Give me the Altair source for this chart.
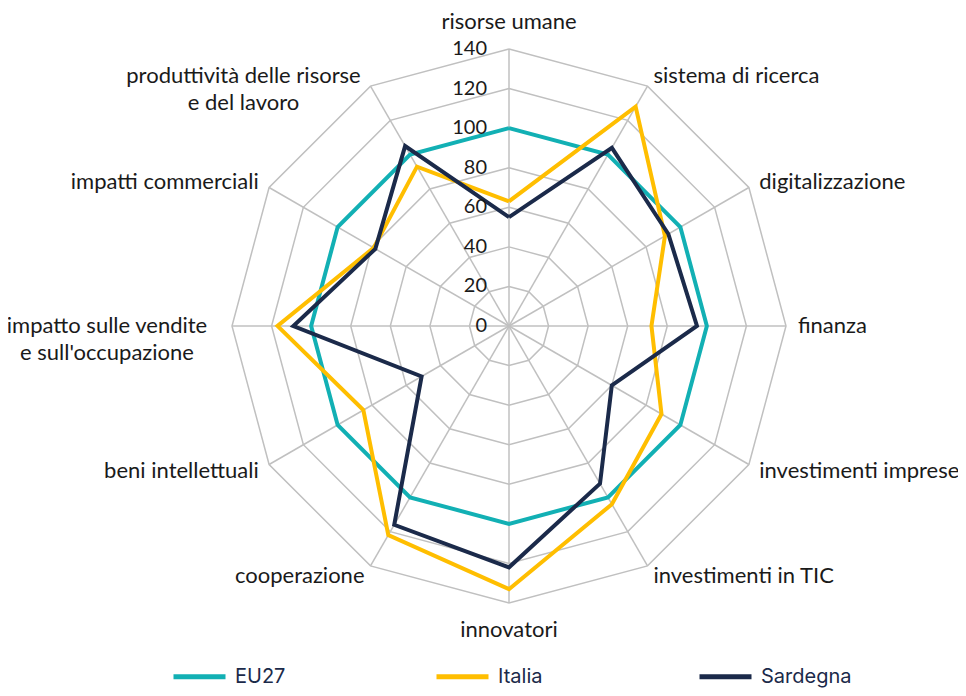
import altair as alt
import pandas as pd

categories = [
    "risorse umane",
    "sistema di ricerca",
    "digitalizzazione",
    "finanza",
    "investimenti imprese",
    "investimenti in TIC",
    "innovatori",
    "cooperazione",
    "beni intellettuali",
    "impatto sulle vendite\ne sull'occupazione",
    "impatti commerciali",
    "produttività delle risorse\ne del lavoro",
]
series_names = ["EU27", "Italia", "Sardegna"]
eu27 = [100, 100, 100, 100, 100, 100, 100, 100, 100, 100, 100, 100]
italia = [63, 128, 91, 72, 89, 104, 133, 122, 85, 117, 79, 93]
sardegna = [55, 104, 93, 95, 60, 92, 122, 116, 51, 109, 78, 105]
levels = [0, 20, 40, 60, 80, 100, 120, 140]
colors = ["#12B0B4", "#FFBE00", "#1B2A4A"]

N = len(categories)
RMAX = levels[-1]

# series table (closed polygons)
rows = []
for name, vals in zip(series_names, [eu27, italia, sardegna]):
    for i in range(N + 1):
        rows.append({"series": name, "idx": i, "value": vals[i % N]})
series_df = pd.DataFrame(rows)

# grid polygons
grid_rows = []
for lv in levels[1:]:
    for i in range(N + 1):
        grid_rows.append({"level": lv, "idx": i})
grid_df = pd.DataFrame(grid_rows)

spoke_df = pd.DataFrame({"idx": list(range(N)), "r": [RMAX] * N})
tick_df = pd.DataFrame({"level": levels, "label": [str(v) for v in levels]})
label_df = pd.DataFrame({"idx": list(range(N)), "cat": categories})

FONT = "Lato"
TXT = "#1a1a1a"
GRID = "#C0C0C0"

k = 277 / 140.0  # px per unit
cx, cy = 501, 318  # center in plot coords
W, H = 950, 680
xs = alt.Scale(domain=[-cx / k, (W - cx) / k], nice=False, zero=False)
ys = alt.Scale(domain=[-(H - cy) / k, cy / k], nice=False, zero=False)

theta = f"2*PI*datum.idx/{N}"

grid = alt.Chart(grid_df).transform_calculate(
    x=f"datum.level*sin({theta})", y=f"datum.level*cos({theta})"
).mark_line(color=GRID, strokeWidth=1.5).encode(
    x=alt.X("x:Q", scale=xs, axis=None),
    y=alt.Y("y:Q", scale=ys, axis=None),
    detail="level:N",
    order="idx:Q",
)

spokes = alt.Chart(spoke_df).transform_calculate(
    x0="0", y0="0", x=f"datum.r*sin({theta})", y=f"datum.r*cos({theta})"
).mark_rule(color=GRID, strokeWidth=1.5).encode(
    x=alt.X("x0:Q", scale=xs, axis=None),
    y=alt.Y("y0:Q", scale=ys, axis=None),
    x2="x:Q",
    y2="y:Q",
)

lines = alt.Chart(series_df).transform_calculate(
    x=f"datum.value*sin({theta})", y=f"datum.value*cos({theta})"
).mark_line(strokeWidth=4, strokeJoin="miter").encode(
    x=alt.X("x:Q", scale=xs, axis=None),
    y=alt.Y("y:Q", scale=ys, axis=None),
    order="idx:Q",
    color=alt.Color(
        "series:N",
        scale=alt.Scale(domain=series_names, range=colors),
        legend=alt.Legend(
            orient="none",
            legendX=163,
            legendY=640,
            direction="horizontal",
            title=None,
            symbolType="stroke",
            symbolSize=2704,
            symbolStrokeWidth=5,
            labelFont="Inter",
            labelFontSize=20,
            labelColor="#1B2A4A",
            labelOffset=7,
            gridAlign="all",
            columnPadding=100,
            padding=0,
        ),
    ),
)

ticks = alt.Chart(tick_df).transform_calculate(x0="0").mark_text(
    align="right", baseline="middle", dx=-22, font=FONT, fontSize=20, color=TXT
).encode(
    x=alt.X("x0:Q", scale=xs, axis=None),
    y=alt.Y("level:Q", scale=ys, axis=None),
    text="label:N",
)

R_LAB = RMAX + 12 / k
lab_base = alt.Chart(label_df).transform_calculate(
    s=f"sin({theta})",
    c=f"cos({theta})",
    multi="indexof(datum.cat, '\\n') >= 0",
).transform_calculate(
    x=f"{R_LAB}*datum.s", y=f"{R_LAB}*datum.c"
)
enc = dict(
    x=alt.X("x:Q", scale=xs, axis=None),
    y=alt.Y("y:Q", scale=ys, axis=None),
    text="cat:N",
)
tstyle = dict(font=FONT, fontSize=22, color=TXT, baseline="middle", lineBreak="\n")

lab_right = lab_base.transform_filter("datum.s > 0.01 && !datum.multi").mark_text(
    align="left", **tstyle).encode(**enc)
lab_left = lab_base.transform_filter("datum.s < -0.01 && !datum.multi").mark_text(
    align="right", **tstyle).encode(**enc)
lab_top = lab_base.transform_filter("abs(datum.s) <= 0.01 && datum.c > 0").mark_text(
    align="center", dy=-15, **tstyle).encode(**enc)
lab_bottom = lab_base.transform_filter("abs(datum.s) <= 0.01 && datum.c < 0").mark_text(
    align="center", dy=15, lineHeight=27, **tstyle).encode(**enc)
lab_multi_up = lab_base.transform_filter("datum.multi && datum.c > 0.1").mark_text(
    align="center", dx=-121, lineHeight=27, **tstyle).encode(**enc)
lab_multi_side = lab_base.transform_filter("datum.multi && abs(datum.c) <= 0.1").mark_text(
    align="center", dx=-113, lineHeight=27, **tstyle).encode(**enc)

chart = alt.layer(
    grid, spokes, lines, ticks, lab_right, lab_left, lab_top, lab_bottom,
    lab_multi_up, lab_multi_side
).properties(
    width=W, height=H, padding=0, autosize=alt.AutoSizeParams(type="none")
).configure(background="white").configure_view(stroke="transparent", strokeWidth=0)

chart.save("out.html", embed_options={"renderer": "svg", "actions": False})
